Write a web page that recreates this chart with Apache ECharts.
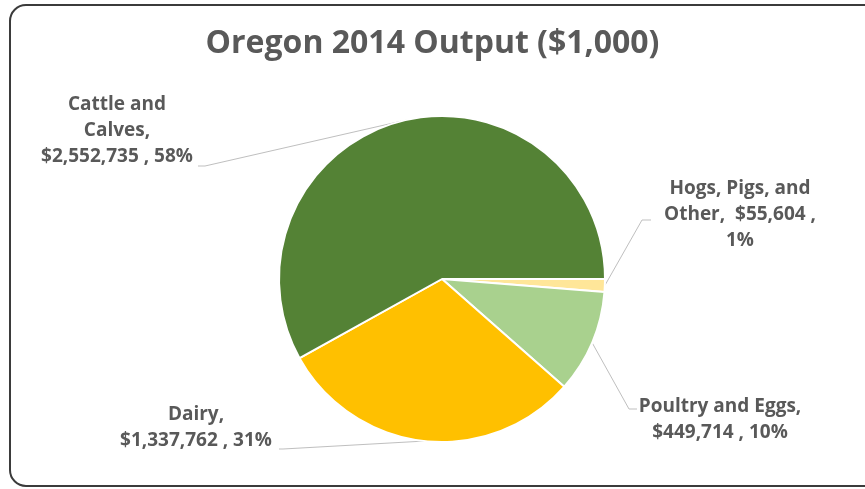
<!DOCTYPE html>
<html>
<head>
<meta charset="utf-8">
<script src="https://cdn.jsdelivr.net/npm/echarts@6/dist/echarts.min.js"></script>
<style>
  html, body { margin: 0; padding: 0; background: #fff; }
  #chart { width: 865px; height: 489px; }
</style>
</head>
<body>
<div id="chart"></div>
<script>
// order is clockwise from 3 o'clock, as in the source chart
const categories = ['Hogs, Pigs, and Other', 'Poultry and Eggs', 'Dairy', 'Cattle and Calves']
const values = [55604, 449714, 1337762, 2552735]
const percents = [1, 10, 31, 58]
const colors = ['#FFE699', '#A9D18E', '#FFC000', '#548235']

// label text wrapping the way the original did it
const labelTemplates = [
  'Hogs, Pigs, and\nOther,  {v} ,\n{p}',
  'Poultry and Eggs,\n{v} , {p}',
  'Dairy,\n{v} , {p}',
  'Cattle and\nCalves,\n{v} , {p}',
]

// where each label sits, and the elbow/end of its leader line
const labelPlacement = [
  { x: 740, y: 215, elbow: [642, 220], end: [651, 220] },
  { x: 720, y: 420, elbow: [629, 409], end: [637, 409] },
  { x: 196, y: 428, elbow: [283, 449], end: [279, 449] },
  { x: 117, y: 131, elbow: [205, 166], end: [198, 166] },
]

const fmtMoney = v => '$' + v.toLocaleString('en-US')

const chart = echarts.init(document.getElementById('chart'))

chart.setOption({
  backgroundColor: '#fff',
  animation: false,
  title: {
    text: 'Oregon 2014 Output ($1,000)',
    left: 'center',
    top: 23,
    textStyle: {
      color: '#595959',
      fontFamily: 'Open Sans',
      fontWeight: 'bold',
      fontSize: 32,
    },
  },
  graphic: [
    {
      type: 'rect',
      shape: { x: 10, y: 5, width: 880, height: 481, r: 16 },
      style: { fill: 'none', stroke: '#3b3b3b', lineWidth: 2 },
      silent: true,
    },
  ],
  series: [
    {
      type: 'pie',
      center: [442, 279],
      radius: 163,
      startAngle: 0,
      clockwise: true,
      avoidLabelOverlap: false,
      itemStyle: { borderColor: '#fff', borderWidth: 2 },
      label: {
        show: true,
        color: '#595959',
        fontFamily: 'Open Sans',
        fontWeight: 'bold',
        fontSize: 19,
        lineHeight: 26,
        align: 'center',
        formatter: p => labelTemplates[p.dataIndex]
          .replace('{v}', fmtMoney(p.value))
          .replace('{p}', percents[p.dataIndex] + '%'),
      },
      labelLine: {
        show: true,
        length: 20,
        length2: 10,
        lineStyle: { color: '#bfbfbf', width: 1 },
      },
      labelLayout: params => {
        const pl = labelPlacement[params.dataIndex]
        const start = params.labelLinePoints ? params.labelLinePoints[0] : pl.elbow
        return {
          x: pl.x,
          y: pl.y,
          align: 'center',
          verticalAlign: 'middle',
          labelLinePoints: [start, pl.elbow, pl.end],
        }
      },
      emphasis: { disabled: true },
      data: categories.map((name, i) => ({
        name,
        value: values[i],
        itemStyle: { color: colors[i] },
      })),
    },
  ],
})
</script>
</body>
</html>
